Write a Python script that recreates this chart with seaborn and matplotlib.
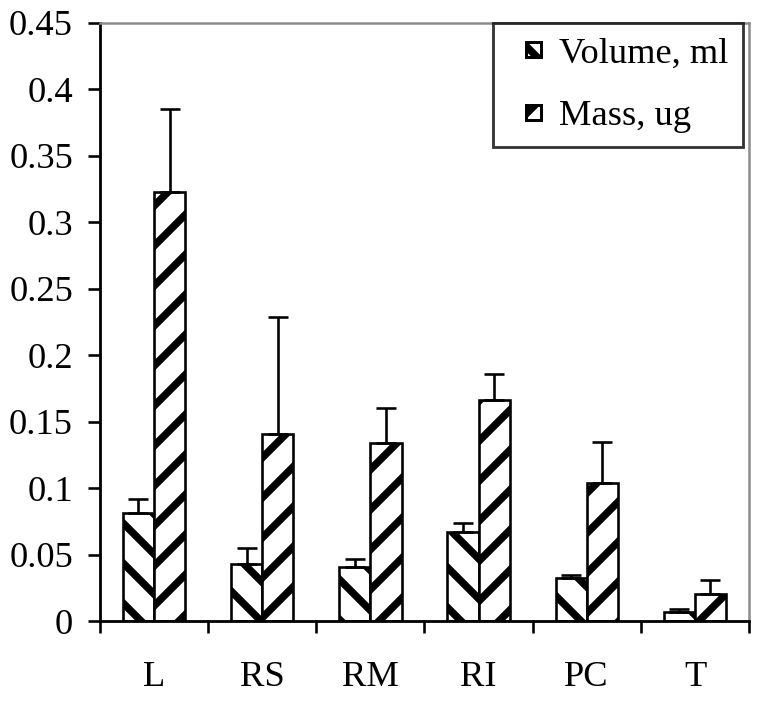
import numpy as np
import pandas as pd
import matplotlib
matplotlib.use('Agg')
import matplotlib.pyplot as plt
from matplotlib.patches import Rectangle
from matplotlib.legend_handler import HandlerPatch
import seaborn as sns

# datos
organos = ['L', 'RS', 'RM', 'RI', 'PC', 'T']
volumen = [0.081, 0.043, 0.041, 0.067, 0.032, 0.007]
volumen_err = [0.011, 0.012, 0.006, 0.007, 0.003, 0.002]
masa = [0.323, 0.141, 0.134, 0.166, 0.104, 0.020]
masa_err = [0.062, 0.088, 0.026, 0.020, 0.031, 0.011]
series = ['Volume, ml', 'Mass, ug']

df = pd.DataFrame({
    'Organo': organos * 2,
    'Valor': volumen + masa,
    'Serie': [series[0]] * len(organos) + [series[1]] * len(organos),
})
errores = {series[0]: volumen_err, series[1]: masa_err}

dpi = 120


def pt(px):
    # pixeles -> puntos
    return px * 72.0 / dpi


sns.set_style('ticks')
plt.rcParams['font.family'] = ['Liberation Serif', 'DejaVu Serif']
plt.rcParams['hatch.linewidth'] = pt(7.5)
plt.rcParams['hatch.color'] = 'black'
for clave in ['text.color', 'xtick.color', 'ytick.color', 'axes.labelcolor']:
    plt.rcParams[clave] = 'black'

fig = plt.figure(figsize=(763 / dpi, 701 / dpi), dpi=dpi)
ax = fig.add_axes([0.131, 0.1141, 0.8507, 0.8531])

sns.barplot(data=df, x='Organo', y='Valor', hue='Serie', hue_order=series,
            palette=['white', 'white'], saturation=1, width=0.575, gap=0,
            edgecolor='black', linewidth=pt(2.6), errorbar=None, legend=False, ax=ax)

barras_cont = list(ax.containers)
tramas = ['\\', '/']
for cont, trama, serie in zip(barras_cont, tramas, series):
    xs, ys = [], []
    for barra in cont:
        barra.set_hatch(trama)
        xs.append(barra.get_x() + barra.get_width() / 2)
        ys.append(barra.get_height())
    err = errores[serie]
    ax.errorbar(xs, ys, yerr=[np.zeros(len(err)), err], fmt='none',
                ecolor='black', elinewidth=pt(2.6), capsize=pt(10),
                capthick=pt(2.6), zorder=1)

ax.set_ylim(0, 0.45)
ax.set_yticks(np.arange(0, 0.451, 0.05))
ax.set_yticklabels(['0'] + [f'{v:g}' for v in np.arange(0.05, 0.451, 0.05)])
ax.set_xlim(-0.5, len(organos) - 0.5)
ax.set_xticks(np.arange(-0.5, len(organos), 1.0), minor=True)
ax.tick_params(axis='x', which='major', length=0, pad=pt(40), labelsize=pt(36.5))
ax.tick_params(axis='x', which='minor', length=pt(12), width=pt(2.6), direction='out', color='black')
ax.tick_params(axis='y', length=pt(12), width=pt(2.6), pad=pt(15), labelsize=pt(36.5), direction='out')
ax.set_xlabel('')
ax.set_ylabel('')

for lado in ['left', 'bottom']:
    ax.spines[lado].set_color('black')
    ax.spines[lado].set_linewidth(pt(2.8))
for lado in ['top', 'right']:
    ax.spines[lado].set_visible(True)
    ax.spines[lado].set_color('#8c8c8c')
    ax.spines[lado].set_linewidth(pt(2.5))

lado_px = 15


def cuadrito(legend, orig_handle, xdescent, ydescent, width, height, fontsize):
    s = pt(lado_px)
    return Rectangle((-xdescent + width - s, -ydescent + (height - s) / 2), s, s)


manijas = [cont.patches[0] for cont in barras_cont]
leg = ax.legend(manijas, series, loc='upper right', bbox_to_anchor=(0.99, 1.0),
                frameon=True, fancybox=False, fontsize=pt(36.5), handlelength=0.93,
                handleheight=0.7, handletextpad=0.5, borderpad=0.38,
                labelspacing=0.8, borderaxespad=0,
                handler_map={Rectangle: HandlerPatch(patch_func=cuadrito)})
leg.get_frame().set_edgecolor('black')
leg.get_frame().set_linewidth(pt(2.8))
for h in leg.legend_handles:
    h.set_linewidth(pt(3))

fig.savefig('out.png', dpi=dpi)
